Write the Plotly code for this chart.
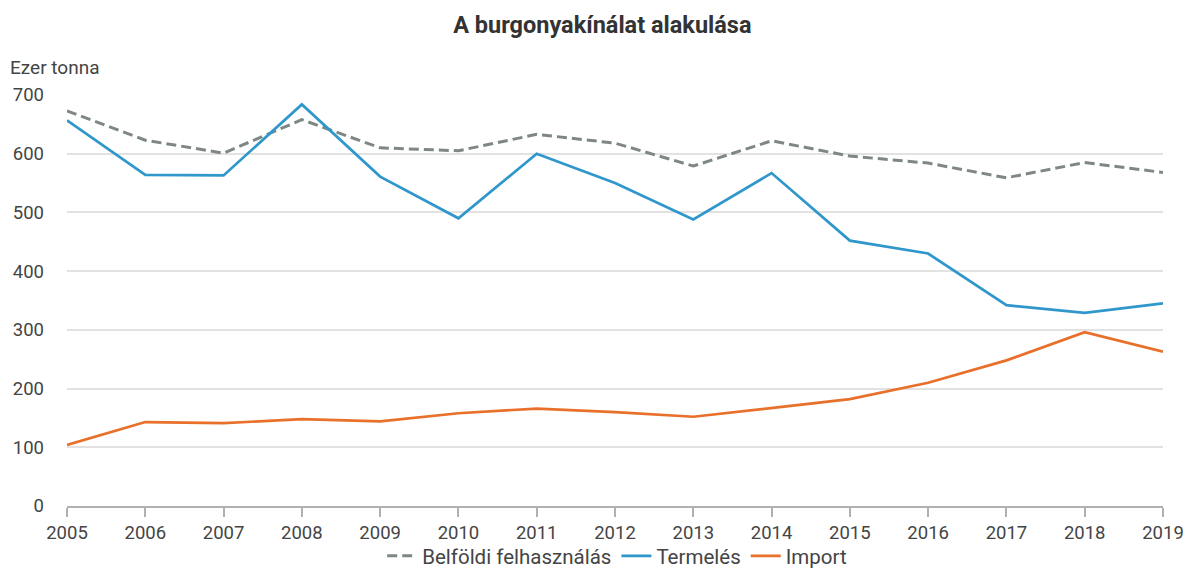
import plotly.graph_objects as go

years = list(range(2005, 2020))
belfoldi = [673, 623, 601, 658, 610, 605, 633, 618, 579, 622, 596, 584, 559, 585, 568]
termeles = [657, 564, 563, 684, 561, 490, 600, 550, 488, 567, 452, 430, 342, 329, 345]
import_ = [104, 143, 141, 148, 144, 158, 166, 160, 152, 167, 182, 210, 248, 296, 263]

# the page body keeps its default 8px margin, so the figure is smaller than the window
fig = go.Figure()
fig.add_trace(go.Scatter(x=years, y=belfoldi, name="Belföldi felhasználás", mode="lines",
                         line=dict(color="#7f8784", width=3, dash="10px,5px")))
fig.add_trace(go.Scatter(x=years, y=termeles, name="Termelés", mode="lines",
                         line=dict(color="#2f97cc", width=2.7)))
fig.add_trace(go.Scatter(x=years, y=import_, name="Import", mode="lines",
                         line=dict(color="#e8702a", width=2.7)))

fig.update_layout(
    width=1184, height=568,
    paper_bgcolor="white", plot_bgcolor="white",
    font=dict(family="Roboto", size=18.5, color="#444444"),
    margin=dict(l=59, r=29, t=87, b=70),
    title=dict(text="<b>A burgonyakínálat alakulása</b>", x=0.502, xanchor="center",
               y=0.970, yanchor="middle", font=dict(size=23.5, color="#333333")),
    showlegend=True,
    legend=dict(orientation="h", x=0.502, xanchor="center", yref="container",
                y=0, yanchor="bottom", bgcolor="rgba(0,0,0,0)",
                font=dict(size=20.5, color="#444444")),
    annotations=[dict(text="Ezer tonna", xref="paper", yref="paper", x=-0.054, y=1.066,
                      xanchor="left", yanchor="middle", showarrow=False,
                      font=dict(size=19, color="#444444"))],
)
fig.update_xaxes(range=[2005, 2019], tickmode="linear", dtick=1, showgrid=False,
                 showline=True, linecolor="#b0b0b0", linewidth=1.5,
                 ticks="outside", ticklen=9, tickcolor="#b0b0b0", tickwidth=1.5,
                 zeroline=False, ticklabeloverflow="allow", automargin=False)
fig.update_yaxes(range=[0, 700], dtick=100, showgrid=True, gridcolor="#e2e2e2",
                 gridwidth=1.5, zeroline=False, showline=False, ticks="",
                 ticklabelstandoff=22, automargin=False)

fig.write_html("out.html")
